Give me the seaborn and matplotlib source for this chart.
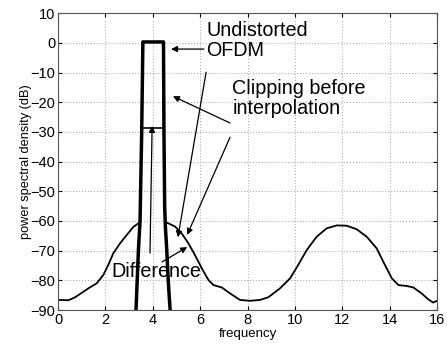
import numpy as np
import pandas as pd
import matplotlib
matplotlib.use("Agg")
import matplotlib.pyplot as plt
import seaborn as sns

# ---- data ----
undist_freq = [3.22, 3.29, 3.39, 3.46, 3.53, 3.58, 4.45, 4.47, 4.50, 4.53, 4.59, 4.65, 4.73, 4.76]
undist_db   = [-95, -90, -70, -60, -30, 0.3, 0.3, -30, -55, -62, -70, -80, -90, -95]

clip_freq = [0.0, 0.44, 0.72, 1.0, 1.28, 1.63, 1.91, 2.12, 2.33, 2.62, 2.9, 3.18,
             3.39, 3.46, 3.53, 3.58, 4.45, 4.47, 4.50, 4.53,
             4.66, 4.94, 5.22, 5.5, 5.78, 6.07, 6.35, 6.56, 6.91, 7.26, 7.68,
             8.1, 8.53, 8.88, 9.37, 9.8, 10.14, 10.5, 10.92, 11.34, 11.77,
             12.19, 12.61, 13.03, 13.45, 13.8, 14.09, 14.37, 14.72, 15.0,
             15.35, 15.63, 15.84, 16.0]
clip_db = [-86.6, -86.7, -85.7, -84.2, -82.7, -81.0, -78.2, -74.8, -70.9, -67.5, -64.7, -62.0,
           -60.8, -60.3, -30, 0.3, 0.3, -30, -55, -60.5,
           -60.8, -61.9, -64.2, -67.5, -71.5, -76.0, -79.9, -81.6, -82.4, -84.4, -86.6,
           -86.9, -86.6, -85.7, -82.7, -79.3, -74.8, -69.8, -65.3, -62.5, -61.5,
           -61.6, -62.8, -65.3, -69.2, -74.8, -79.3, -81.6, -81.9, -82.4,
           -84.4, -86.4, -87.5, -86.9]

diff_freq = [3.58, 4.45]
diff_db = [-28.6, -28.6]

x_ticks = list(range(0, 17, 2))
y_ticks = list(range(-90, 11, 10))

df_u = pd.DataFrame({"f": undist_freq, "p": undist_db})
df_c = pd.DataFrame({"f": clip_freq, "p": clip_db})
df_d = pd.DataFrame({"f": diff_freq, "p": diff_db})

sns.set_style("white")
plt.rcParams["font.family"] = ["Liberation Sans", "DejaVu Sans"]
plt.rcParams["text.color"] = "black"
plt.rcParams["axes.labelcolor"] = "black"

fig = plt.figure(figsize=(4.47, 3.46), dpi=100)
ax = fig.add_axes([0.13, 0.104, 0.8476, 0.858])

sns.lineplot(data=df_c, x="f", y="p", ax=ax, color="black", lw=1.3, sort=False, estimator=None)
sns.lineplot(data=df_d, x="f", y="p", ax=ax, color="black", lw=1.2, sort=False, estimator=None)
sns.lineplot(data=df_u, x="f", y="p", ax=ax, color="black", lw=2.5, sort=False, estimator=None)

ax.set_xlim(0, 16)
ax.set_ylim(-90, 10)
ax.set_xticks(x_ticks)
ax.set_yticks(y_ticks)
ax.tick_params(direction="in", length=3, labelsize=10.5, colors="black", pad=2,
               top=True, right=True, bottom=True, left=True)
ax.grid(True, color="#b0b0b0", linestyle=":", linewidth=0.8)
for s in ax.spines.values():
    s.set_color("#555555")
    s.set_linewidth(0.8)
ax.set_xlabel("frequency", fontsize=9.5, labelpad=1)
ax.set_ylabel("power spectral density (dB)", fontsize=9.2, labelpad=-1)

ap = dict(arrowstyle="-|>", color="black", lw=0.9, mutation_scale=9, shrinkA=0, shrinkB=0)
fs = 14.2
ax.text(6.25, 7.3, "Undistorted\nOFDM", fontsize=fs, ha="left", va="top", linespacing=1.05)
ax.annotate("", xy=(4.77, -2.1), xytext=(6.16, -2.1), arrowprops=ap)
ax.annotate("", xy=(5.06, -65.5), xytext=(6.25, -9.9), arrowprops=ap)

ax.text(7.35, -12.3, "Clipping before\ninterpolation", fontsize=fs, ha="left", va="top", linespacing=1.05)
ax.annotate("", xy=(4.85, -18.0), xytext=(7.26, -27.0), arrowprops=ap)
ax.annotate("", xy=(5.45, -64.7), xytext=(7.26, -31.8), arrowprops=ap)

ax.text(2.27, -77.0, "Difference", fontsize=fs, ha="left", va="center")
ax.annotate("", xy=(3.97, -28.0), xytext=(3.88, -70.8), arrowprops=ap)
ax.annotate("", xy=(5.45, -68.8), xytext=(4.39, -73.8), arrowprops=ap)

fig.savefig("out.png", dpi=100)
